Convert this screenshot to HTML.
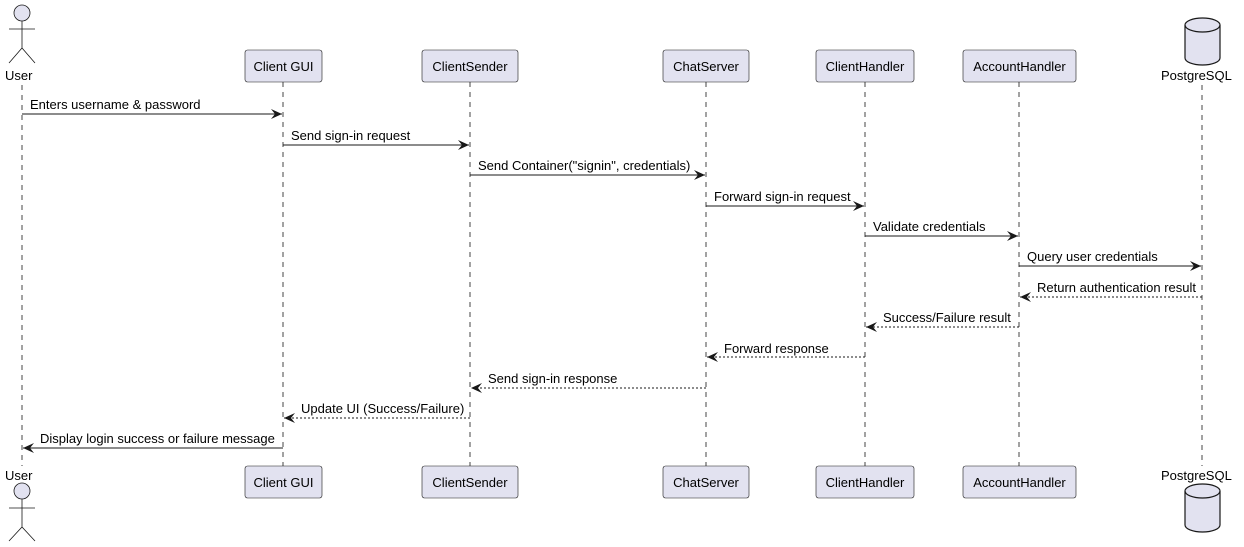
<!DOCTYPE html>
<html><head><meta charset="utf-8"><style>
body{margin:0;background:#fff}
svg{display:block}
text{font-family:"Liberation Sans",sans-serif;font-size:13px;fill:#000}
.m{font-size:13px}
</style></head><body>
<svg width="1244" height="547" viewBox="0 0 1244 547">
<defs>
<marker id="a" markerWidth="12" markerHeight="10" refX="11" refY="5" orient="auto" markerUnits="userSpaceOnUse">
<path d="M0,0 L11,5 L0,10 L4,5 Z" fill="#181818"/></marker>
</defs>
<g stroke="#181818" stroke-width="0.8" stroke-dasharray="5,5">
<line x1="22" y1="85" x2="22" y2="466"/>
<line x1="283" y1="82" x2="283" y2="466"/>
<line x1="470" y1="82" x2="470" y2="466"/>
<line x1="706" y1="82" x2="706" y2="466"/>
<line x1="865" y1="82" x2="865" y2="466"/>
<line x1="1019" y1="82" x2="1019" y2="466"/>
<line x1="1202" y1="85" x2="1202" y2="466"/>
</g>
<g fill="#E2E2F0" stroke="#181818" stroke-width="0.8">
<circle cx="22" cy="13" r="8"/>
<path d="M22,21 V48 M9,29 H35 M9,63 L22,48 L35,63" fill="none"/>
<circle cx="22" cy="491" r="8"/>
<path d="M22,499 V527 M9,508 H35 M9,541 L22,527 L35,541" fill="none"/>
</g>
<text x="5" y="80">User</text>
<text x="5" y="480">User</text>
<g fill="#E2E2F0" stroke="#181818" stroke-width="1.2">
<path d="M1185,25 A17.5,7 0 0 1 1220,25 V58 A17.5,7 0 0 1 1185,58 Z"/>
<path d="M1185,25 A17.5,7 0 0 0 1220,25" fill="none"/>
<path d="M1185,491 A17.5,7 0 0 1 1220,491 V525 A17.5,7 0 0 1 1185,525 Z"/>
<path d="M1185,491 A17.5,7 0 0 0 1220,491" fill="none"/>
</g>
<text x="1161" y="80">PostgreSQL</text>
<text x="1161" y="480">PostgreSQL</text>
<g fill="#E2E2F0" stroke="#181818" stroke-width="0.6">
<rect x="245" y="50" width="77" height="32" rx="2.5"/>
<rect x="422" y="50" width="96" height="32" rx="2.5"/>
<rect x="663" y="50" width="86" height="32" rx="2.5"/>
<rect x="816" y="50" width="98" height="32" rx="2.5"/>
<rect x="963" y="50" width="113" height="32" rx="2.5"/>
<rect x="245" y="466" width="77" height="32" rx="2.5"/>
<rect x="422" y="466" width="96" height="32" rx="2.5"/>
<rect x="663" y="466" width="86" height="32" rx="2.5"/>
<rect x="816" y="466" width="98" height="32" rx="2.5"/>
<rect x="963" y="466" width="113" height="32" rx="2.5"/>
</g>
<g text-anchor="middle">
<text x="283.5" y="71">Client GUI</text>
<text x="470" y="71">ClientSender</text>
<text x="706" y="71">ChatServer</text>
<text x="865" y="71">ClientHandler</text>
<text x="1019.5" y="71">AccountHandler</text>
<text x="283.5" y="487">Client GUI</text>
<text x="470" y="487">ClientSender</text>
<text x="706" y="487">ChatServer</text>
<text x="865" y="487">ClientHandler</text>
<text x="1019.5" y="487">AccountHandler</text>
</g>
<g stroke="#181818" stroke-width="1" marker-end="url(#a)">
<line x1="22" y1="114" x2="282" y2="114"/>
<line x1="283" y1="145" x2="469" y2="145"/>
<line x1="470" y1="175" x2="705" y2="175"/>
<line x1="706" y1="206" x2="864" y2="206"/>
<line x1="865" y1="236" x2="1018" y2="236"/>
<line x1="1019" y1="266" x2="1201" y2="266"/>
<g stroke-dasharray="2,2">
<line x1="1202" y1="297" x2="1020" y2="297"/>
<line x1="1019" y1="327" x2="866" y2="327"/>
<line x1="865" y1="357" x2="707" y2="357"/>
<line x1="706" y1="388" x2="471" y2="388"/>
<line x1="470" y1="418" x2="284" y2="418"/>
</g>
<line x1="283" y1="448" x2="23" y2="448"/>
</g>
<g>
<text class="m" x="30" y="109">Enters username &amp; password</text>
<text class="m" x="291" y="140">Send sign-in request</text>
<text class="m" x="478" y="170">Send Container("signin", credentials)</text>
<text class="m" x="714" y="201">Forward sign-in request</text>
<text class="m" x="873" y="231">Validate credentials</text>
<text class="m" x="1027" y="261">Query user credentials</text>
<text class="m" x="1037" y="292">Return authentication result</text>
<text class="m" x="883" y="322">Success/Failure result</text>
<text class="m" x="724" y="353">Forward response</text>
<text class="m" x="488" y="383">Send sign-in response</text>
<text class="m" x="301" y="413">Update UI (Success/Failure)</text>
<text class="m" x="40" y="443">Display login success or failure message</text>
</g>
</svg>
</body></html>
